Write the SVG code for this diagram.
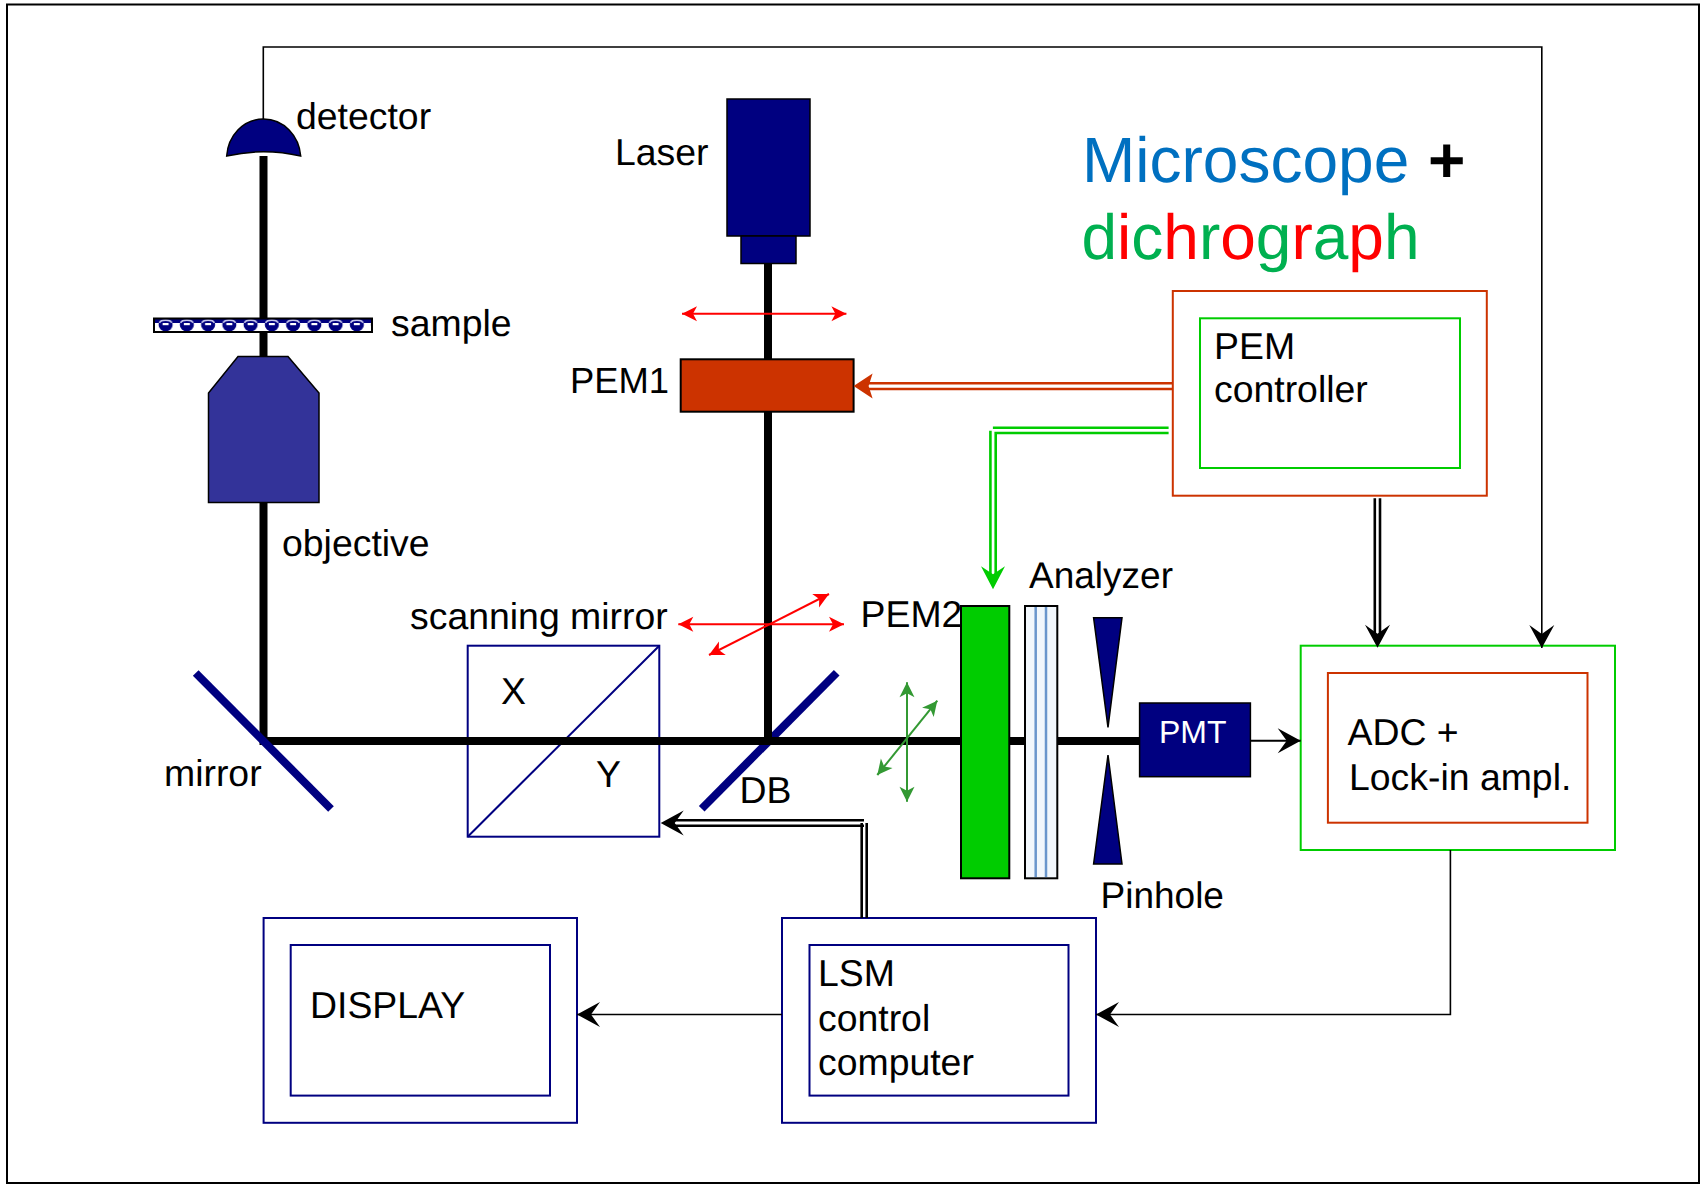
<svg xmlns="http://www.w3.org/2000/svg" width="1701" height="1184" viewBox="0 0 1701 1184">
<style>
text{font-family:"Liberation Sans",Arial,sans-serif;font-size:37.4px;fill:#000;text-rendering:geometricPrecision}
.title{font-size:64px}
.beam{stroke:#000;stroke-width:8;fill:none}
.navy{fill:#000080;stroke:#000;stroke-width:1.5}
.nbox{fill:#fff;stroke:#000080;stroke-width:2}
.gbox{fill:#fff;stroke:#00CC00;stroke-width:2}
.obox{fill:#fff;stroke:#CC3300;stroke-width:2}
.mir{stroke:#000080;stroke-width:8;fill:none}
.k{stroke:#000;stroke-width:2;fill:none}
.kk{stroke:#000;stroke-width:2.6;fill:none}
.o{stroke:#CC3300;stroke-width:2.6;fill:none}
.g{stroke:#00CC00;stroke-width:2.6;fill:none}
.r{stroke:#FF0000;stroke-width:2;fill:none;marker-start:url(#red);marker-end:url(#red)}
.gd{stroke:#339933;stroke-width:2;fill:none;marker-start:url(#dg);marker-end:url(#dg)}
.head{fill:none;stroke:none}
</style>
<defs>
<marker id="red" markerUnits="userSpaceOnUse" markerWidth="18" markerHeight="18" refX="16" refY="9" orient="auto-start-reverse"><path d="M16 9L1 1.5L5 9L1 16.5Z" fill="#FF0000"/></marker>
<marker id="dg" markerUnits="userSpaceOnUse" markerWidth="18" markerHeight="18" refX="16" refY="9" orient="auto-start-reverse"><path d="M16 9L1 1.5L5 9L1 16.5Z" fill="#339933"/></marker>
<marker id="kh" markerUnits="userSpaceOnUse" markerWidth="28" markerHeight="28" refX="25" refY="14" orient="auto"><path d="M25 14L2 1.5L11 14L2 26.5Z" fill="#000"/></marker>
<marker id="oh" markerUnits="userSpaceOnUse" markerWidth="28" markerHeight="28" refX="25" refY="14" orient="auto"><path d="M25 14L6 1.5L10 14L6 26.5Z" fill="#CC3300"/></marker>
<marker id="gh" markerUnits="userSpaceOnUse" markerWidth="28" markerHeight="28" refX="25" refY="14" orient="auto"><path d="M25 14L2 2L10 14L2 26Z" fill="#00CC00"/></marker>
<pattern id="smp" patternUnits="userSpaceOnUse" x="155" y="319" width="21.25" height="12">
<rect width="21.25" height="12" fill="#fff"/>
<rect width="21.25" height="4" fill="#000080"/>
<ellipse cx="10.6" cy="6" rx="7" ry="6.4" fill="#000080"/>
<path d="M4.4 3.8A6.4 3.6 0 0 1 16.8 3.8" fill="none" stroke="#C4C4EA" stroke-width="1.6"/>
<rect x="7.6" y="4" width="6" height="2.2" fill="#fff"/>
</pattern>
</defs>
<rect id="frame" x="7" y="4.5" width="1692" height="1178.5" fill="#fff" stroke="#000" stroke-width="2"/>

<g id="scanning-mirror"><rect class="nbox" x="467.7" y="645.7" width="191.6" height="191"/><path d="M467.7 836.7L659.3 645.7" stroke="#000080" stroke-width="2" fill="none"/></g>
<path id="db" class="mir" d="M701.7 808.7L836.7 672.7"/>

<g id="beams">
<path class="beam" d="M263.5 156V741M259.5 741H1140M768 263V741"/>
</g>

<g id="mirror"><path class="mir" d="M195.7 673L331 809"/></g>
<g id="detector"><path d="M226.7 156C228 136 243 119 263.5 119C284 119 299 136 300.7 156Q263.5 147.4 226.7 156Z" class="navy"/></g>
<g id="sample"><rect x="154" y="318.5" width="218" height="13.5" fill="url(#smp)" stroke="#000" stroke-width="2"/></g>
<g id="objective"><path d="M238 356.5H288L319 393V502.5H208.5V393Z" fill="#333399" stroke="#000" stroke-width="1.5"/></g>
<g id="laser"><rect class="navy" x="727" y="99" width="83" height="137"/><rect class="navy" x="741" y="236" width="55" height="27.5"/></g>
<g id="pem1"><rect x="680.7" y="359.3" width="172.9" height="52.4" fill="#CC3300" stroke="#000" stroke-width="2"/></g>
<g id="pem2"><rect x="961" y="606" width="48.3" height="272.3" fill="#00CC00" stroke="#000" stroke-width="2"/></g>
<g id="analyzer"><rect x="1025" y="606" width="32.3" height="272.3" fill="#F2F7FC" stroke="#000" stroke-width="2"/><path d="M1035.7 607V877M1046 607V877" stroke="#6A96CC" stroke-width="2.5" fill="none"/></g>
<g id="pinhole"><path class="navy" d="M1093.6 617.7H1122L1108 727.3Z"/><path class="navy" d="M1093.6 864H1122L1108 755Z"/></g>
<g id="pmt"><rect class="navy" x="1139.6" y="703" width="110.8" height="73.7"/><text x="1159" y="743" style="font-size:32px;fill:#fff">PMT</text></g>
<g id="pem-controller"><rect class="obox" x="1172.8" y="291" width="314" height="204.7"/><rect class="gbox" x="1200" y="318.3" width="260" height="149.7"/><text x="1214" y="358.5">PEM</text><text x="1214" y="402">controller</text></g>
<g id="adc"><rect class="gbox" x="1300.7" y="645.7" width="314.3" height="204.3"/><rect class="obox" x="1327.9" y="673" width="259.6" height="149.7"/><text x="1347.5" y="745">ADC +</text><text x="1349" y="790">Lock-in ampl.</text></g>
<g id="lsm"><rect class="nbox" x="782" y="918" width="314" height="204.8"/><rect class="nbox" x="809.5" y="945" width="259" height="150.6"/><text x="818" y="986">LSM</text><text x="818" y="1031">control</text><text x="818" y="1075">computer</text></g>
<g id="display"><rect class="nbox" x="263.6" y="918" width="313.4" height="204.8"/><rect class="nbox" x="290.7" y="945" width="259.3" height="150.6"/><text x="310" y="1018">DISPLAY</text></g>

<g id="connectors">
<path class="k" style="stroke-width:1.6" d="M263.3 119V47H1541.8V648" marker-end="url(#kh)"/>
<path class="o" d="M1172.8 383.3H862M1172.8 389H862"/>
<path class="head" d="M1172.8 386H853.6" marker-end="url(#oh)"/>
<path class="g" d="M1168.6 427.7H992.9M1168.6 433H995.7V578M990.4 430.7V578"/>
<path class="head" d="M993 442V589.3" marker-end="url(#gh)"/>
<path class="kk" d="M1374.8 498.3V634M1380 498.3V634"/>
<path class="head" d="M1377.5 498.3V647.7" marker-end="url(#kh)"/>
<path class="k" d="M1250.4 740.7H1300.7" marker-end="url(#kh)"/>
<path class="k" style="stroke-width:1.6" d="M1450.4 850V1014.5H1096" marker-end="url(#kh)"/>
<path class="k" style="stroke-width:1.6" d="M782 1014.5H577" marker-end="url(#kh)"/>
<path class="kk" d="M864 820.3H672M864 825.7H672M861.7 823V918M866.7 823V918"/>
<path class="head" d="M864 823H660.7" marker-end="url(#kh)"/>
<path class="r" d="M682 313.7H846.4"/>
<path class="r" d="M678.3 624.3H844"/>
<path class="r" d="M709 655L829 594"/>
<path class="gd" d="M907 682.3V801.7"/>
<path class="gd" d="M877.3 775L937.3 700.7"/>
</g>

<g id="labels">
<text x="296" y="129">detector</text>
<text x="391" y="336">sample</text>
<text x="282" y="556">objective</text>
<text x="410" y="629">scanning mirror</text>
<text x="164" y="785.7">mirror</text>
<text x="501" y="704">X</text>
<text x="596" y="786.7">Y</text>
<text x="615" y="165">Laser</text>
<text x="570" y="393" style="font-size:36.4px">PEM1</text>
<text x="860.6" y="626.7">PEM2</text>
<text x="739.5" y="802.7">DB</text>
<text x="1029" y="588.3" style="font-size:37px">Analyzer</text>
<text x="1100.5" y="908" style="font-size:37px">Pinhole</text>
<text x="1082" y="181.7" class="title" style="fill:#0070C0">Microscope</text>
<text x="1428" y="181.7" class="title" style="font-weight:bold">+</text>
<text x="1081.5" y="259" class="title"><tspan style="fill:#00B050">d</tspan><tspan style="fill:#FF0000">i</tspan><tspan style="fill:#00B050">c</tspan><tspan style="fill:#FF0000">h</tspan><tspan style="fill:#00B050">r</tspan><tspan style="fill:#FF0000">o</tspan><tspan style="fill:#00B050">g</tspan><tspan style="fill:#FF0000">r</tspan><tspan style="fill:#00B050">a</tspan><tspan style="fill:#FF0000">p</tspan><tspan style="fill:#00B050">h</tspan></text>
</g>
</svg>
